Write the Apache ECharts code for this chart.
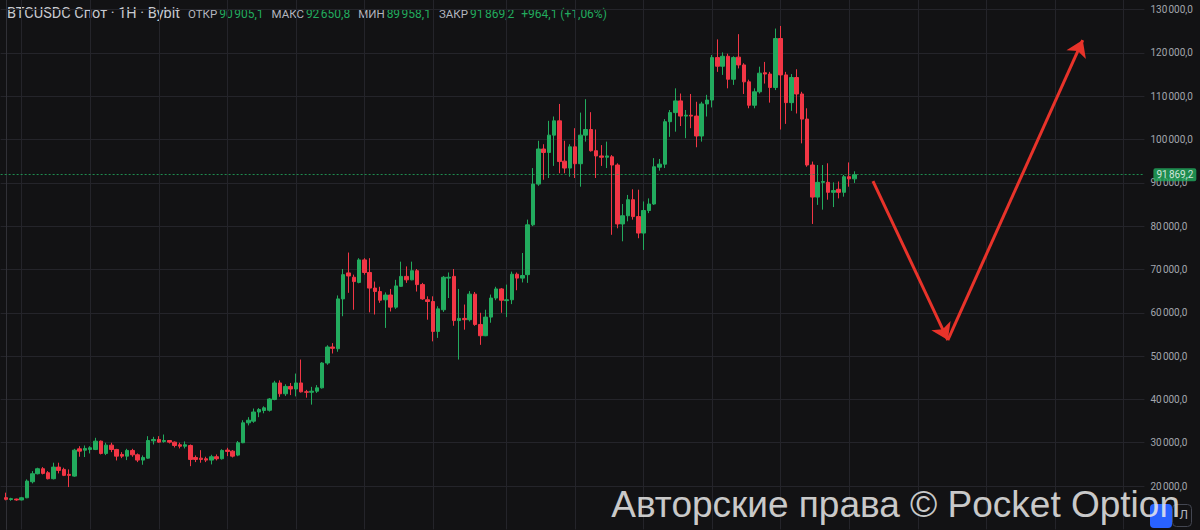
<!DOCTYPE html>
<html><head><meta charset="utf-8">
<script src="https://cdn.jsdelivr.net/npm/echarts@6/dist/echarts.min.js"></script>
<style>html,body{margin:0;padding:0;background:#121214;}#c{width:1200px;height:530px;}</style>
</head><body><div id="c"></div>
<script>
// ---- data (weekly candles) ----
const firstWeek = '2022-12-12';
const opens = [
17330,16900,17000,16800,17300,21000,22850,24000,23080,21700,24380,23850,22700,22300,28600,28290,28450,28450,30370,27530,
29450,28450,27300,26910,28220,27220,26000,26450,30450,30760,30300,30520,30140,29530,29200,29370,26600,26450,26300,26000,
26770,26310,28300,28060,27150,30000,34600,34980,37100,37440,37500,39980,43800,41300,43000,42400,43800,41750,41660,41900,
42670,48400,52100,51700,63200,69200,68200,67000,72200,69300,65700,64900,63000,64100,61300,66100,68400,67600,69700,66500,
63000,62600,55700,60700,68000,68400,58200,58700,58400,64300,57300,54700,59000,63400,65500,62800,63000,68900,68000,68800,
80300,89700,97800,97000,101000,104300,95000,93400,98300,94400,101000,102300,97400,96200,95900,96000,94100,80500,82400,86100,
82200,78400,83600,85100,93600,94300,104100,106200,108900,105400,105600,105400,100800,108200,109100,118900,116900,119200,113900,119000,
117200,113300,107900,111000,115400,115100,112000,123300,114900,108500,114300,110500,104700,94100,86700,90100,90100,87800,88500,87800,
91400,90905.1];
const highs = [
18480,17300,17100,17500,21540,23460,24240,24380,23460,25390,25390,24240,23850,28600,29200,29370,29200,31140,30520,30000,
30000,28600,27830,28600,28600,27530,27070,31520,31370,31520,31900,30600,30300,30000,30300,29600,27070,28290,26770,27220,
27300,28500,28840,28300,30400,35200,35900,37900,38000,38400,40300,44300,44400,43500,43800,45970,49200,42200,42900,43300,
48600,52500,53000,64000,70100,73900,68800,72600,72600,72600,67200,66000,64700,65500,67600,71800,70700,71800,70100,66900,
63800,63800,61500,68500,69300,70100,65500,61900,65000,64800,60000,60700,64200,66000,65700,66500,69500,69300,73800,81500,
93400,99700,98900,104300,105300,108200,99700,98900,102600,106200,109300,106300,102300,98700,99500,96400,94500,85100,87200,88500,
88400,85700,86400,95700,95500,104700,106800,111800,110600,106800,110500,108700,108700,110300,119500,123100,120100,119800,119200,124300,
117600,113800,111800,116800,117900,115600,125600,126200,115600,115100,116200,111000,107200,94900,94100,94100,94500,90100,90300,91800,
94700,92650.8];
const lows = [
16700,16600,16600,16700,17200,20620,22700,22700,21540,21540,22930,22300,19770,22150,26770,26700,27530,28300,27300,27150,
27830,25910,26450,26000,26770,25530,24920,26300,29600,30000,30000,29840,28920,28690,28690,24600,25530,25390,25530,25000,
25920,26100,26910,26600,26900,29900,34000,34600,35900,36800,37200,39800,40600,40800,41000,40700,41600,40400,38800,41500,
42500,48000,50600,51000,59200,64600,60700,66800,68800,60100,59600,62300,56500,60300,60900,66000,66900,67500,64900,63000,
58400,53400,54200,60200,63400,57000,49200,56100,58000,57000,52600,54600,57700,62900,60000,59000,62000,65200,67000,66900,
80000,89300,90700,91100,93900,92200,92200,91400,91100,89100,99500,97200,91100,93900,93400,78000,79500,76500,81100,81500,
77200,74500,83000,84900,92800,93400,100600,101800,103100,100300,102600,98200,99500,105300,107400,115600,114900,111800,112600,116400,
110500,107200,107200,110600,112900,108500,111400,102300,103600,106600,106000,99100,93700,80500,84900,83800,86100,84400,86400,86800,
89100,89958.1];
const closes = [
16940,17100,16800,17300,21160,22850,24000,22930,21700,24380,23620,22470,22470,28290,28060,28690,28840,30370,27530,29450,
28450,26910,26910,28220,27220,26000,26600,30520,30760,30140,30520,30140,29370,29200,29530,26150,26150,26150,26000,26770,
26310,28220,28000,26910,30000,34600,35200,37100,37670,38060,40100,43800,41300,43000,42400,43800,41750,41660,41900,42670,
48400,52100,51800,63200,68800,68500,67200,72200,69300,65700,64900,62900,64100,61300,66200,68400,67600,69700,66500,63200,
62600,55700,60900,68200,68200,58200,58700,58400,64300,57300,54700,59000,63400,65500,62900,63000,68900,68000,68600,80300,
89700,97800,97000,101000,104300,94900,93400,98300,94400,101000,102300,97400,96200,95900,96200,94100,80500,82400,86100,82200,
78400,83600,85100,93700,94300,104100,106200,108900,105400,105600,105400,100800,108200,109100,118900,116900,119200,113900,118900,117200,
113300,107900,111000,115300,115100,112000,123300,114900,108500,114300,110500,104700,94100,86700,90100,90300,87800,88200,87800,91400,
90905.1,91869.2];
const markedPrice = 51637.0;                 // grey price-scale marker
// hand-drawn arrows: [candle index, price]
const arrowPath = [[164.5, 90400], [178.7, 53700], [204.3, 122950]];
const yMin = 10000, yMax = 132190, yStep = 10000;
const futureWeeks = 55;

// ---- derived ----
const WEEK = 7 * 864e5;
const t0 = Date.parse(firstWeek + 'T00:00:00Z');
const categories = [];
for (let i = -1; i < opens.length + futureWeeks; i++) categories.push(new Date(t0 + i * WEEK).toISOString().slice(0, 10));
const isQuarterStart = (idx) => { const d = new Date(t0 + (idx - 1) * WEEK); return d.getUTCDate() <= 7 && d.getUTCMonth() % 3 === 0; };
const candleData = opens.map((o, i) => [i + 1, o, closes[i], lows[i], highs[i]]);
const n = opens.length;
const lastO = opens[n - 1], lastH = highs[n - 1], lastL = lows[n - 1], lastC = closes[n - 1], prevC = closes[n - 2];
const fmt = (v) => { const s = Math.abs(v).toFixed(1).split('.'); return (v < 0 ? '-' : '') + s[0].replace(/\B(?=(\d{3})+(?!\d))/g, '\u202f') + ',' + s[1]; };
const chg = lastC - prevC, chgPct = chg / prevC * 100;

const UP = '#22ab5e', DOWN = '#f23645', GRID = '#24242a', FONT = 'Roboto, "Noto Sans", sans-serif';

const chart = echarts.init(document.getElementById('c'), null, { renderer: 'svg' });
chart.setOption({
  backgroundColor: '#121214',
  animation: false,
  grid: { left: 0.63, right: 55.6, top: 0, bottom: 0.6 },
  xAxis: [
    { type: 'category', data: categories, boundaryGap: false,
      axisLine: { show: false }, axisTick: { show: false }, axisLabel: { show: false },
      splitLine: { show: true, interval: (i) => isQuarterStart(i), lineStyle: { color: GRID, width: 1 } } },
    { type: 'value', min: -1, max: categories.length - 2, show: false }
  ],
  yAxis: {
    type: 'value', position: 'right', min: yMin, max: yMax, interval: yStep,
    axisLine: { show: true, lineStyle: { color: '#303036' } },
    axisTick: { show: false },
    axisLabel: { color: '#a3a6ad', fontSize: 10, fontFamily: FONT, margin: 6, showMinLabel: false, showMaxLabel: false,
      formatter: (v) => fmt(v) },
    splitLine: { show: true, showMinLine: false, showMaxLine: false, lineStyle: { color: GRID, width: 1 } }
  },
  graphic: [
    { type: 'text', left: 7, top: 6, silent: true,
      style: {
        text: '{t|BTCUSDC Спот · 1H · Bybit}{l|ОТКР}{v|' + fmt(lastO) + '}{l|МАКС}{v|' + fmt(lastH) + '}{l|МИН}{v|' + fmt(lastL) +
              '}{l|ЗАКР}{v|' + fmt(lastC) + '}{c|' + (chg >= 0 ? '+' : '') + fmt(chg) + ' (' + (chg >= 0 ? '+' : '') + chgPct.toFixed(2).replace('.', ',') + '%)}',
        rich: {
          t: { fontSize: 14.5, fill: '#c8cad0', fontFamily: FONT },
          l: { fontSize: 11.5, fill: '#b2b5be', fontFamily: FONT, padding: [0, 2, 0, 8] },
          v: { fontSize: 12, fill: UP, fontFamily: FONT },
          c: { fontSize: 12, fill: UP, fontFamily: FONT, padding: [0, 0, 0, 7] }
        }
      } },
    { type: 'text', right: 20, top: 486, silent: true, z: 100,
      style: { text: 'Авторские права © Pocket Option', fontSize: 37, fill: 'rgba(235,235,235,0.85)', fontFamily: '"Liberation Sans", Arial, sans-serif' } },
    { type: 'rect', right: 28, top: 504, z: 90, shape: { width: 22, height: 24, r: 4 }, style: { fill: '#2962ff' } },
    { type: 'rect', right: 8, top: 504, z: 90, shape: { width: 19, height: 22, r: 4 }, style: { fill: '#121214', stroke: '#434651', lineWidth: 1 } },
    { type: 'text', right: 12, top: 509, z: 91, style: { text: 'Л', fontSize: 12, fill: '#b2b5be', fontFamily: FONT } }
  ],
  series: [
    { type: 'candlestick', xAxisIndex: 0, yAxisIndex: 0, data: candleData, encode: { x: 0, y: [1, 2, 3, 4] },
      barWidth: 4, clip: false,
      itemStyle: { color: UP, color0: DOWN, borderColor: UP, borderColor0: DOWN, borderWidth: 1 },
      markLine: {
        silent: true, symbol: ['none', 'none'], animation: false,
        data: [
          { yAxis: lastC, lineStyle: { color: UP, type: [2, 2], width: 1, opacity: 0.8 },
            label: { show: true, position: 'end', distance: 9, formatter: () => fmt(lastC), color: '#ffffff', backgroundColor: UP,
              padding: [2, 3, 1, 3], borderRadius: 2, fontSize: 10, fontFamily: FONT } },
          { yAxis: markedPrice, lineStyle: { opacity: 0, width: 0 },
            label: { show: true, position: 'end', distance: 9, formatter: () => fmt(markedPrice), color: '#d1d4dc', backgroundColor: '#3a3c44',
              padding: [2, 3, 1, 3], borderRadius: 2, fontSize: 10, fontFamily: FONT } }
        ]
      } },
    { type: 'line', xAxisIndex: 1, yAxisIndex: 0, data: arrowPath, showSymbol: false, lineStyle: { width: 0, opacity: 0 }, silent: true,
      markLine: {
        silent: true, symbol: ['none', 'arrow'], symbolSize: 16, animation: false,
        lineStyle: { color: '#e8332a', width: 3, type: 'solid' }, label: { show: false },
        data: [
          [{ coord: arrowPath[0] }, { coord: arrowPath[1] }],
          [{ coord: arrowPath[1] }, { coord: arrowPath[2] }]
        ]
      } }
  ]
});
</script>
</body></html>
